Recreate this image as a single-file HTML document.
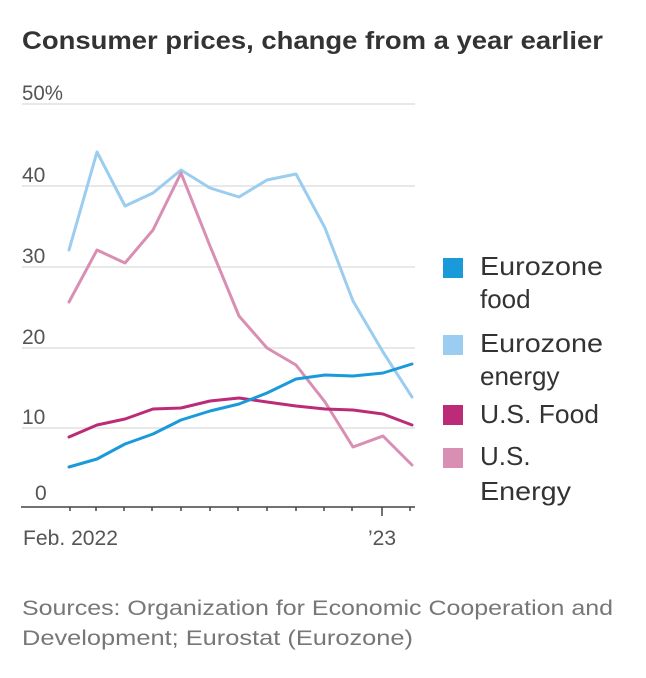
<!DOCTYPE html>
<html><head><meta charset="utf-8"><style>
body{margin:0;background:#fff;width:646px;height:673px;overflow:hidden;font-family:"Liberation Sans",sans-serif}
</style></head><body>
<svg width="646" height="673" xmlns="http://www.w3.org/2000/svg" font-family="Liberation Sans, sans-serif">
<text x="22" y="49" font-size="25" font-weight="bold" fill="#333" textLength="581" lengthAdjust="spacingAndGlyphs">Consumer prices, change from a year earlier</text>
<g stroke="#d9d9d9" stroke-width="1.3">
<line x1="22" x2="415" y1="104" y2="104"/><line x1="22" x2="415" y1="186" y2="186"/>
<line x1="22" x2="415" y1="267" y2="267"/><line x1="22" x2="415" y1="348" y2="348"/>
<line x1="22" x2="415" y1="428" y2="428"/>
</g>
<g font-size="21" fill="#555">
<text x="22" y="100" textLength="41" lengthAdjust="spacingAndGlyphs">50%</text><text x="22" y="182">40</text><text x="22" y="263">30</text>
<text x="22" y="344">20</text><text x="22" y="424">10</text><text x="35" y="500">0</text>
<text x="23" y="545" textLength="95" lengthAdjust="spacingAndGlyphs">Feb. 2022</text><text x="368" y="545">’23</text>
</g>
<line x1="21" x2="415" y1="507" y2="507" stroke="#444" stroke-width="1.5"/>
<g stroke="#444" stroke-width="1.5">
<line x1="70" x2="70" y1="507" y2="511"/><line x1="96" x2="96" y1="507" y2="511"/>
<line x1="124" x2="124" y1="507" y2="511"/><line x1="152" x2="152" y1="507" y2="511"/>
<line x1="181" x2="181" y1="507" y2="511"/><line x1="210" x2="210" y1="507" y2="511"/>
<line x1="238" x2="238" y1="507" y2="511"/><line x1="267" x2="267" y1="507" y2="511"/>
<line x1="296" x2="296" y1="507" y2="511"/><line x1="324" x2="324" y1="507" y2="511"/>
<line x1="352" x2="352" y1="507" y2="511"/><line x1="382" x2="382" y1="507" y2="516"/>
<line x1="410" x2="410" y1="507" y2="511"/>
</g>
<g fill="none" stroke-width="3" stroke-linejoin="round" stroke-linecap="round">
<polyline stroke="#9acdef" points="69,250 97,152 125,206 153,193 181,170 210,188 239,197 267,180 296,174 325,228 353,301 383,352 412,397"/>
<polyline stroke="#d98fb3" points="69,302 97,250 125,263 153,230 181,173 210,246 239,316 267,348 296,365 325,402 353,447 383,436 412,465"/>
<polyline stroke="#bb2b77" points="69,437 97,425 125,419 153,409 181,408 210,401 239,398 267,402 296,406 325,409 353,410 383,414 412,425"/>
<polyline stroke="#1a9ad9" points="69,467 97,459 125,444 153,434 181,420 210,411 239,404 267,393 296,379 325,375 353,376 383,373 412,364"/>
</g>
<g font-size="26" fill="#333">
<rect x="443" y="258" width="20" height="20" fill="#1a9ad9"/>
<text x="480" y="275" textLength="123" lengthAdjust="spacingAndGlyphs">Eurozone</text><text x="480" y="308">food</text>
<rect x="443" y="335" width="20" height="20" fill="#9acdef"/>
<text x="480" y="352" textLength="123" lengthAdjust="spacingAndGlyphs">Eurozone</text><text x="480" y="385">energy</text>
<rect x="443" y="405" width="20" height="20" fill="#bb2b77"/>
<text x="480" y="423" textLength="119" lengthAdjust="spacingAndGlyphs">U.S. Food</text>
<rect x="443" y="448" width="20" height="20" fill="#d98fb3"/>
<text x="480" y="465">U.S.</text><text x="480" y="500" textLength="91" lengthAdjust="spacingAndGlyphs">Energy</text>
</g>
<g font-size="21" fill="#777">
<text x="22" y="615" textLength="591" lengthAdjust="spacingAndGlyphs">Sources: Organization for Economic Cooperation and</text>
<text x="22" y="645" textLength="391" lengthAdjust="spacingAndGlyphs">Development; Eurostat (Eurozone)</text>
</g>
</svg>
</body></html>
